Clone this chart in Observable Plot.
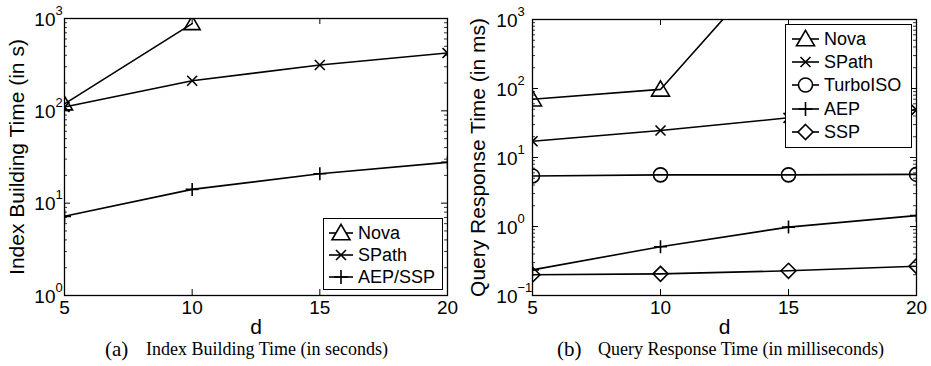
<!DOCTYPE html>
<html><head><meta charset="utf-8">
<script src="https://cdn.jsdelivr.net/npm/d3@7"></script>
<script src="https://cdn.jsdelivr.net/npm/@observablehq/plot@0.6"></script>
<style>
body{margin:0;background:#fff;width:931px;height:366px;overflow:hidden;font-family:"Liberation Sans",Arial,sans-serif;}
#wrap{position:relative;width:931px;height:366px;}
.panel{position:absolute;top:0;}
.legend{position:absolute;background:#fff;border:1px solid #000;box-sizing:border-box;}
</style></head><body><div id="wrap"></div>
<script>
// ---- data ----
const dValues = [5, 10, 15, 20];
const xTickLabels = ["5", "10", "15", "20"];
const xLabel = "d";

const idxSeries = ["Nova", "SPath", "AEP/SSP"];
const idxNova = [119, 880];
const idxSPath = [110, 212, 314, 423];
const idxAEPSSP = [7.2, 14.1, 20.8, 27.7];
const idxYTicks = [1, 10, 100, 1000];
const idxYExp = ["0", "1", "2", "3"];
const idxYLabel = "Index Building Time (in s)";

const qrySeries = ["Nova", "SPath", "TurboISO", "AEP", "SSP"];
const qryNova = [70, 97, 11700];
const qrySPath = [17.2, 24.6, 37.6, 49];
const qryTurboISO = [5.4, 5.6, 5.6, 5.7];
const qryAEP = [0.235, 0.51, 0.98, 1.44];
const qrySSP = [0.2, 0.206, 0.228, 0.266];
const qryYTicks = [0.1, 1, 10, 100, 1000];
const qryYExp = ["\u22121", "0", "1", "2", "3"];
const qryYLabel = "Query Response Time (in ms)";

const captionTags = ["(a)", "(b)"];
const captionTexts = ["Index Building Time (in seconds)", "Query Response Time (in milliseconds)"];

// ---- symbols (MATLAB-like markers) ----
function sym(fn) { return {draw(c, size) { fn(c, Math.sqrt(size / Math.PI)); }}; }
const SYM = {
  triangle: sym((c, r) => { c.moveTo(0, -r * 0.95); c.lineTo(r, r * 0.75); c.lineTo(-r, r * 0.75); c.closePath(); }),
  times: sym((c, r) => { c.moveTo(-r, -r); c.lineTo(r, r); c.moveTo(r, -r); c.lineTo(-r, r); }),
  plus: sym((c, r) => { c.moveTo(-r, 0); c.lineTo(r, 0); c.moveTo(0, -r); c.lineTo(0, r); }),
  circle: sym((c, r) => { c.moveTo(r, 0); c.arc(0, 0, r, 0, 2 * Math.PI); }),
  diamond: sym((c, r) => { c.moveTo(0, -r); c.lineTo(r, 0); c.lineTo(0, r); c.lineTo(-r, 0); c.closePath(); })
};

function minorTicks(lo, hi) {
  const out = [];
  for (let e = Math.log10(lo); e < Math.log10(hi); e++)
    for (let k = 2; k <= 9; k++) out.push(k * Math.pow(10, e));
  return out;
}

function panel({width, height, ml, mr, mt, mb, yDomain, yTicks, yExp, yLabel, yLabelDx, tickDx, series}) {
  const pw = width - ml - mr, ph = height - mt - mb;
  const minors = minorTicks(yDomain[0], yDomain[1]);
  const marks = [
    Plot.frame({stroke: "black", strokeWidth: 1.3}),
    Plot.tickY(yTicks, {y: d => d, insetRight: pw - 6, stroke: "black"}),
    Plot.tickY(yTicks, {y: d => d, insetLeft: pw - 6, stroke: "black"}),
    Plot.tickY(minors, {y: d => d, insetRight: pw - 3, stroke: "black", strokeWidth: 0.8}),
    Plot.tickY(minors, {y: d => d, insetLeft: pw - 3, stroke: "black", strokeWidth: 0.8}),
    Plot.tickX(dValues, {x: d => d, insetTop: ph - 6, stroke: "black"}),
    Plot.tickX(dValues, {x: d => d, insetBottom: ph - 6, stroke: "black"}),
    Plot.text(dValues, {x: d => d, frameAnchor: "bottom", dy: 18, text: (d, i) => xTickLabels[i], fontSize: 19}),
    Plot.text(yTicks, {y: d => d, frameAnchor: "left", dx: tickDx, dy: 1, textAnchor: "end", text: () => "10", fontSize: 19}),
    Plot.text(yTicks, {y: d => d, frameAnchor: "left", dx: tickDx, dy: -8, textAnchor: "start", text: (d, i) => yExp[i], fontSize: 13}),
    Plot.text([yLabel], {frameAnchor: "left", dx: yLabelDx, rotate: -90, textAnchor: "middle", text: d => d, fontSize: 21}),
    Plot.text([xLabel], {frameAnchor: "bottom", dy: 38, textAnchor: "middle", text: d => d, fontSize: 21})
  ];
  for (const s of series) {
    const data = s.values.map((v, i) => ({x: dValues[i], y: v}));
    marks.push(Plot.line(data, {x: "x", y: "y", stroke: "black", strokeWidth: 1.6, clip: true}));
    marks.push(Plot.dot(data, {x: "x", y: "y", symbol: SYM[s.symbol], r: s.r, fill: "none", stroke: "black", strokeWidth: 1.6, clip: true}));
  }
  return Plot.plot({
    width, height, marginLeft: ml, marginRight: mr, marginTop: mt, marginBottom: mb,
    x: {type: "linear", domain: [5, 20], axis: null},
    y: {type: "log", domain: yDomain, axis: null},
    style: {fontFamily: "'Liberation Sans', Arial, sans-serif", background: "white", color: "black", overflow: "visible"},
    marks
  });
}

function legend(parent, {left, top, width, height, names, syms, rs, rowY, lineX0, lineX1, textX}) {
  const box = d3.select(parent).append("div").attr("class", "legend")
    .style("left", left + "px").style("top", top + "px").style("width", width + "px").style("height", height + "px");
  const svg = box.append("svg").attr("width", width).attr("height", height).style("position", "absolute").style("left", "-1px").style("top", "-1px");
  names.forEach((n, i) => {
    const y = rowY[i];
    svg.append("line").attr("x1", lineX0).attr("x2", lineX1).attr("y1", y).attr("y2", y).attr("stroke", "black").attr("stroke-width", 1.6);
    const p = d3.path();
    SYM[syms[i]].draw(p, rs[i] * rs[i] * Math.PI);
    svg.append("path").attr("d", p.toString()).attr("transform", `translate(${(lineX0 + lineX1) / 2},${y})`)
      .attr("fill", "white").attr("stroke", "black").attr("stroke-width", 1.6);
    svg.append("text").attr("x", textX).attr("y", y).attr("dy", "0.36em").attr("font-size", 18)
      .attr("font-family", "'Liberation Sans', Arial, sans-serif").text(n);
  });
}

const wrap = document.getElementById("wrap");

const left = panel({
  width: 465, height: 340, ml: 64, mr: 18, mt: 18, mb: 45,
  yDomain: [1, 1000], yTicks: idxYTicks, yExp: idxYExp, yLabel: idxYLabel, yLabelDx: -47, tickDx: -9,
  series: [
    {values: idxNova, symbol: "triangle", r: 8},
    {values: idxSPath, symbol: "times", r: 5},
    {values: idxAEPSSP, symbol: "plus", r: 6.5}
  ]
});
left.classList.add("panel"); left.style.left = "0px";
wrap.appendChild(left);

const right = panel({
  width: 466, height: 340, ml: 67, mr: 15, mt: 19, mb: 45,
  yDomain: [0.1, 1000], yTicks: qryYTicks, yExp: qryYExp, yLabel: qryYLabel, yLabelDx: -54, tickDx: -15,
  series: [
    {values: qryNova, symbol: "triangle", r: 9},
    {values: qrySPath, symbol: "times", r: 5},
    {values: qryTurboISO, symbol: "circle", r: 7},
    {values: qryAEP, symbol: "plus", r: 6.5},
    {values: qrySSP, symbol: "diamond", r: 7.5}
  ]
});
right.classList.add("panel"); right.style.left = "465px";
wrap.appendChild(right);

legend(wrap, {left: 323, top: 218, width: 120, height: 72, names: idxSeries,
  syms: ["triangle", "times", "plus"], rs: [9, 5, 7], rowY: [15, 37, 59], lineX0: 6, lineX1: 30, textX: 35});
legend(wrap, {left: 785, top: 24, width: 127, height: 124, names: qrySeries,
  syms: ["triangle", "times", "circle", "plus", "diamond"], rs: [9, 5, 7, 7, 7.5], rowY: [15, 38, 61, 85, 108], lineX0: 7, lineX1: 34, textX: 39});

// captions
const cap = d3.select(wrap).append("svg").attr("width", 931).attr("height", 32)
  .style("position", "absolute").style("left", "0px").style("top", "334px");
const capPos = [{tagX: 105, textX: 146}, {tagX: 557, textX: 598}];
captionTags.forEach((t, i) => {
  cap.append("text").attr("x", capPos[i].tagX).attr("y", 22).attr("font-size", 21)
    .attr("font-family", "'Liberation Serif', 'Times New Roman', serif").text(t);
  cap.append("text").attr("x", capPos[i].textX).attr("y", 21).attr("font-size", 18)
    .attr("font-family", "'Liberation Serif', 'Times New Roman', serif").text(captionTexts[i]);
});
</script></body></html>
